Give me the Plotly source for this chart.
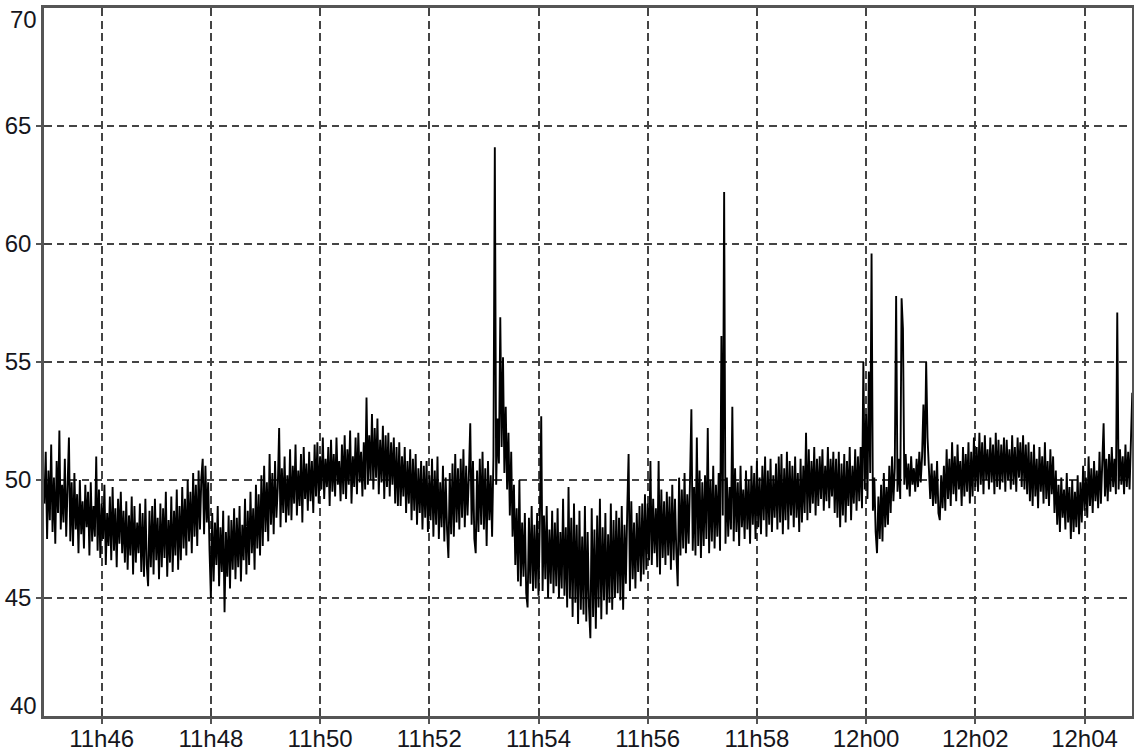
import plotly.graph_objects as go
import pandas as pd

# ---------------- data ----------------
start_time = "2024-01-01 11:44:57"
sample_step = "1500ms"

values = [
    49.0, 51.2, 47.5, 50.4, 48.3, 51.5, 47.8, 50.1, 47.3, 50.8, 48.6, 52.1, 47.9, 49.8, 48.2, 50.9, 47.6, 49.6, 51.8, 47.4,
    49.9, 47.2, 50.3, 47.9, 49.4, 46.9, 50.0, 47.7, 49.1, 47.1, 49.8, 48.0, 49.5, 46.8, 49.9, 47.4, 48.9, 47.6, 51.0, 47.0,
    49.6, 46.7, 49.0, 47.5, 49.8, 46.4, 48.6, 47.2, 49.3, 46.6, 49.7, 47.0, 48.8, 46.3, 49.2, 47.3, 49.5, 46.9, 48.7, 46.5,
    49.1, 46.2, 48.5, 46.8, 49.3, 46.0, 48.9, 46.5, 48.2, 46.9, 49.0, 46.1, 48.6, 45.9, 49.2, 46.4, 45.5, 48.7, 46.3, 48.9,
    46.0, 49.2, 46.6, 48.4, 45.8, 49.0, 46.3, 48.8, 46.7, 49.5, 45.9, 48.3, 46.5, 49.3, 46.1, 48.7, 46.8, 49.6, 46.2, 48.9,
    46.6, 49.7, 47.1, 49.2, 46.8, 50.0, 47.4, 49.5, 46.9, 50.3, 47.6, 49.8, 47.2, 50.4, 47.9, 50.1, 50.9, 47.7, 50.6, 48.2,
    49.9, 47.0, 45.0, 48.6, 45.7, 48.2, 46.4, 48.9, 45.5, 48.0, 46.1, 48.7, 44.4, 47.8, 45.9, 48.5, 45.4, 48.3, 46.2, 48.8,
    45.8, 48.4, 46.3, 48.9, 45.7, 48.1, 46.6, 49.2, 46.0, 48.7, 46.4, 49.5, 46.9, 48.8, 46.2, 49.8, 47.1, 49.4, 46.8, 50.2,
    47.2, 50.6, 47.8, 49.9, 47.4, 51.1, 48.1, 50.3, 47.7, 50.8, 48.4, 49.7, 52.2, 48.0, 50.5, 48.6, 51.0, 48.2, 50.2, 48.5,
    51.3, 48.3, 50.6, 49.0, 51.5, 48.5, 50.4, 48.9, 51.1, 48.2, 51.4, 49.2, 50.7, 48.7, 51.2, 49.1, 50.8, 48.6, 51.5, 49.3,
    51.6, 49.0, 51.0, 49.6, 51.8, 49.2, 50.9, 49.7, 51.4, 48.9, 51.7, 49.5, 51.1, 49.3, 51.8, 49.8, 50.8, 49.1, 51.5, 49.4,
    51.9, 49.2, 51.3, 49.8, 52.1, 49.0, 51.0, 49.7, 51.8, 49.4, 52.0, 49.9, 51.2, 49.3, 51.6, 49.6, 53.5, 49.8, 51.9, 50.0,
    52.8, 49.6, 52.2, 50.1, 52.6, 49.4, 51.7, 49.9, 52.3, 49.2, 51.9, 49.7, 52.0, 49.3, 51.6, 49.8, 51.8, 49.0, 51.4, 48.9,
    51.6, 48.9, 51.0, 49.3, 51.4, 48.6, 50.8, 49.0, 51.3, 48.3, 50.9, 48.7, 51.1, 48.1, 50.5, 48.6, 50.8, 47.9, 50.6, 48.4,
    50.8, 47.8, 50.2, 48.3, 50.9, 47.6, 50.4, 48.1, 51.0, 47.5, 49.9, 48.0, 50.6, 47.4, 50.1, 47.9, 46.7, 50.3, 47.7, 50.7,
    47.6, 51.1, 48.2, 50.5, 47.9, 50.9, 48.4, 51.3, 48.0, 50.6, 48.5, 50.2, 52.4, 48.1, 50.8, 47.5, 46.9, 50.4, 47.8, 50.9,
    48.1, 51.2, 47.9, 50.5, 47.2, 50.8, 48.3, 50.2, 47.6, 51.0, 64.1, 49.8, 52.6, 50.7, 56.9, 51.4, 55.2, 50.3, 53.1, 49.6,
    52.0, 48.5, 51.2, 47.6, 49.8, 46.4, 48.8, 45.7, 50.0, 45.5, 48.2, 45.9, 48.6, 45.2, 44.6, 48.4, 45.6, 48.9, 45.3, 48.1,
    45.4, 48.6, 45.1, 48.3, 52.7, 45.3, 48.5, 45.8, 48.9, 45.0, 47.9, 45.6, 48.7, 45.2, 48.2, 45.5, 48.8, 45.0, 47.8, 45.4,
    49.2, 45.1, 48.0, 44.6, 49.7, 45.0, 48.4, 44.2, 49.0, 44.8, 48.1, 43.9, 48.7, 44.5, 47.6, 44.3, 48.9, 44.0, 47.8, 44.6,
    43.3, 48.8, 44.2, 47.9, 43.7, 48.5, 44.6, 49.2, 44.1, 48.0, 44.9, 48.6, 44.3, 47.7, 44.8, 49.0, 44.5, 48.3, 45.0, 48.7,
    45.2, 48.4, 44.9, 48.9, 44.5, 48.1, 45.6, 48.7, 51.1, 45.3, 49.1, 45.8, 48.2, 45.4, 48.6, 46.1, 48.9, 45.7, 49.0, 46.0,
    49.4, 46.2, 49.0, 46.6, 50.8, 46.4, 49.2, 46.9, 48.8, 46.3, 50.8, 46.0, 49.6, 46.7, 49.1, 46.4, 49.5, 46.8, 49.3, 46.2,
    49.8, 46.6, 49.2, 46.9, 45.5, 50.1, 46.8, 49.6, 47.1, 50.3, 46.9, 49.4, 47.3, 50.0, 53.0, 47.0, 49.7, 46.8, 51.8, 47.2,
    50.4, 46.7, 49.9, 47.2, 50.2, 47.5, 52.2, 46.9, 50.0, 47.4, 50.6, 47.1, 49.8, 47.6, 50.3, 47.0, 56.1, 48.5, 62.2, 47.3,
    50.1, 47.6, 49.7, 47.9, 53.1, 47.4, 50.5, 47.8, 49.9, 47.2, 50.6, 48.0, 49.6, 47.5, 50.4, 47.9, 50.0, 47.3, 50.6, 48.1,
    50.3, 47.5, 50.8, 48.0, 50.1, 47.7, 50.6, 48.3, 51.0, 47.6, 50.4, 48.1, 50.9, 47.8, 50.2, 48.4, 50.7, 47.9, 51.0, 48.2,
    51.1, 47.7, 50.5, 48.3, 51.2, 47.9, 50.8, 48.5, 50.6, 48.0, 51.0, 48.4, 50.3, 47.8, 50.9, 48.2, 50.6, 48.6, 52.0, 48.3,
    51.3, 48.6, 50.8, 49.0, 51.4, 48.5, 50.9, 48.9, 51.0, 49.2, 51.3, 48.7, 50.6, 49.1, 51.4, 48.8, 50.9, 49.3, 51.2, 48.6,
    50.9, 48.4, 51.2, 48.0, 50.7, 48.5, 51.1, 48.2, 50.8, 48.9, 51.4, 48.3, 50.6, 49.0, 51.3, 48.7, 51.0, 49.1, 51.4, 48.8,
    55.0, 49.6, 52.8, 49.2, 54.6, 50.3, 59.6, 48.7, 50.1, 47.8, 46.9, 49.3, 47.5, 49.8, 47.4, 50.3, 48.0, 49.7, 48.1, 50.6,
    48.6, 51.0, 49.1, 50.5, 57.8, 49.5, 50.9, 49.2, 57.7, 56.4, 49.8, 51.1, 49.6, 50.7, 49.3, 51.0, 49.8, 50.5, 49.5, 50.9,
    49.7, 51.2, 49.9, 51.0, 53.2, 50.6, 55.0, 51.8, 50.1, 49.2, 50.7, 48.9, 50.4, 49.0, 50.8, 48.6, 48.3, 50.2, 48.8, 50.6,
    48.7, 51.3, 49.2, 50.9, 48.9, 51.6, 49.4, 51.0, 49.1, 51.5, 49.6, 50.8, 48.9, 51.4, 49.3, 51.1, 49.5, 51.6, 49.0, 51.2,
    49.3, 51.8, 49.7, 51.4, 49.5, 52.0, 49.8, 51.6, 49.4, 51.9, 50.0, 51.3, 49.6, 51.8, 49.9, 51.5, 49.4, 52.0, 49.7, 51.7,
    49.6, 51.5, 49.9, 51.8, 49.5, 51.7, 50.0, 51.3, 49.6, 51.9, 49.8, 51.4, 49.5, 51.8, 50.1, 51.6, 49.7, 51.9, 49.6, 51.5,
    49.4, 51.6, 49.1, 51.2, 48.9, 51.5, 49.3, 50.9, 48.8, 51.4, 49.5, 51.0, 49.0, 51.6, 49.2, 50.8, 48.9, 51.3, 49.4, 51.0,
    48.6, 50.4, 48.1, 49.8, 47.8, 50.1, 48.4, 49.6, 47.9, 50.3, 48.2, 49.7, 47.5, 50.0, 47.8, 49.5, 48.0, 50.2, 47.7, 49.9,
    48.2, 50.6, 48.7, 50.1, 48.4, 51.0, 48.9, 50.5, 48.6, 50.8, 49.1, 50.4, 48.8, 51.2, 49.0, 50.7, 52.4, 49.3, 50.9, 49.1,
    51.1, 49.5, 51.4, 49.7, 50.9, 49.4, 57.1, 49.6, 51.3, 49.8, 51.0, 49.4, 51.5, 49.7, 51.2, 49.6, 51.8, 53.7,
]

x_tick_times = ["11:46", "11:48", "11:50", "11:52", "11:54",
                "11:56", "11:58", "12:00", "12:02", "12:04"]
x_tick_labels = ["11h46", "11h48", "11h50", "11h52", "11h54",
                 "11h56", "11h58", "12h00", "12h02", "12h04"]
y_tick_vals = [45, 50, 55, 60, 65]
y_edge_labels = [40, 70]
x_range = ["2024-01-01 11:44:56.6", "2024-01-01 12:04:52.2"]
y_range = [40, 70]

# ---------------- figure ----------------
times = pd.date_range(start=start_time, periods=len(values), freq=sample_step)
tick_dt = ["2024-01-01 " + t + ":00" for t in x_tick_times]

FONT = "Liberation Sans, Arial, sans-serif"
FS = 24
TXT = "#16161c"
GRID = "#444444"
AXIS = "#555555"

fig = go.Figure()
fig.add_trace(go.Scatter(
    x=times, y=values, mode="lines",
    line=dict(color="#000000", width=1.9),
    hoverinfo="skip", showlegend=False,
))

fig.update_layout(
    width=1134, height=754,
    margin=dict(l=44, r=2, t=8, b=38, autoexpand=False),
    paper_bgcolor="white", plot_bgcolor="white",
    font=dict(family=FONT, size=FS, color=TXT),
    showlegend=False,
)

fig.update_xaxes(
    type="date", range=x_range, automargin=False,
    tickvals=tick_dt, ticktext=x_tick_labels,
    showgrid=True, gridcolor=GRID, gridwidth=1.7, griddash="8px,4.5px",
    showline=True, linecolor=AXIS, linewidth=2.5, mirror=True,
    ticks="outside", ticklen=5, tickcolor=AXIS, tickwidth=1.5,
    tickfont=dict(family=FONT, size=FS, color=TXT),
    ticklabelstandoff=-6,
    zeroline=False,
)
fig.update_yaxes(
    range=y_range, tickvals=y_tick_vals, automargin=False,
    showgrid=True, gridcolor=GRID, gridwidth=1.7, griddash="7.5px,5px",
    showline=True, linecolor=AXIS, linewidth=2.5, mirror=True,
    ticks="outside", ticklen=5, tickcolor=AXIS, tickwidth=1.5,
    tickfont=dict(family=FONT, size=FS, color=TXT),
    zeroline=False,
)

# edge labels (40 and 70) are drawn pulled inside the plot frame, as in the original
for v in y_edge_labels:
    fig.add_annotation(
        x=0, xref="paper", y=v, yref="y", text=str(v), showarrow=False,
        xanchor="right", yanchor="middle", xshift=-5,
        yshift=-11 if v == y_range[1] else 11,
        font=dict(family=FONT, size=FS, color=TXT),
    )

fig.write_html(
    "out.html",
    config={"displayModeBar": False},
    post_script="document.body.style.margin='0';document.body.style.overflow='hidden';",
)
